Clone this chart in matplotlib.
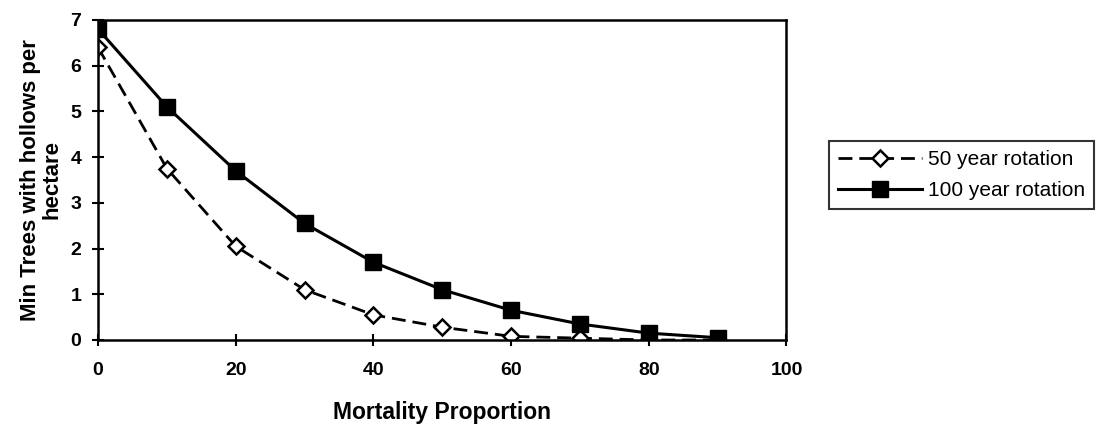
import matplotlib
matplotlib.use("Agg")
import matplotlib.pyplot as plt

plt.rcParams['font.family'] = ['Liberation Sans', 'DejaVu Sans']

mortality = [0, 10, 20, 30, 40, 50, 60, 70, 80, 90]
rot50 = [6.4, 3.75, 2.05, 1.1, 0.55, 0.28, 0.08, 0.04, 0.0, 0.0]
rot100 = [6.8, 5.1, 3.7, 2.55, 1.7, 1.1, 0.65, 0.35, 0.15, 0.05]

fig = plt.figure(figsize=(10.98, 4.25), dpi=100)
ax = fig.add_axes([0.0893, 0.2, 0.627, 0.753])

ax.plot(mortality, rot50, color='black', linestyle=(0, (5, 2.5)), linewidth=2,
        marker='D', markersize=8, markerfacecolor='white', markeredgecolor='black',
        markeredgewidth=1.8, label='50 year rotation')
ax.plot(mortality, rot100, color='black', linestyle='-', linewidth=2.2,
        marker='s', markersize=11, markerfacecolor='black', markeredgecolor='black',
        label='100 year rotation')

ax.set_xlim(0, 100)
ax.set_ylim(0, 7)
ax.set_xticks(range(0, 101, 20))
ax.set_yticks(range(0, 8))
ax.tick_params(direction='inout', length=8, width=1.5, labelsize=14, pad=8)
ax.tick_params(axis='x', pad=12)
for lab in ax.get_xticklabels() + ax.get_yticklabels():
    lab.set_fontweight('bold')
for s in ax.spines.values():
    s.set_linewidth(1.8)

ax.set_xlabel('Mortality Proportion', fontsize=16.5, fontweight='bold', labelpad=16)
ax.set_ylabel('Min Trees with hollows per\nhectare', fontsize=16, fontweight='bold',
              labelpad=6, linespacing=1.0)

leg = fig.legend(loc='upper left', bbox_to_anchor=(0.755, 0.668), fontsize=15,
                 frameon=True, fancybox=False, edgecolor='black', handlelength=4,
                 handletextpad=0.3, borderpad=0.45, borderaxespad=0,
                 labelspacing=0.55)
leg.get_frame().set_linewidth(1.5)

fig.savefig('out.png', dpi=100)
